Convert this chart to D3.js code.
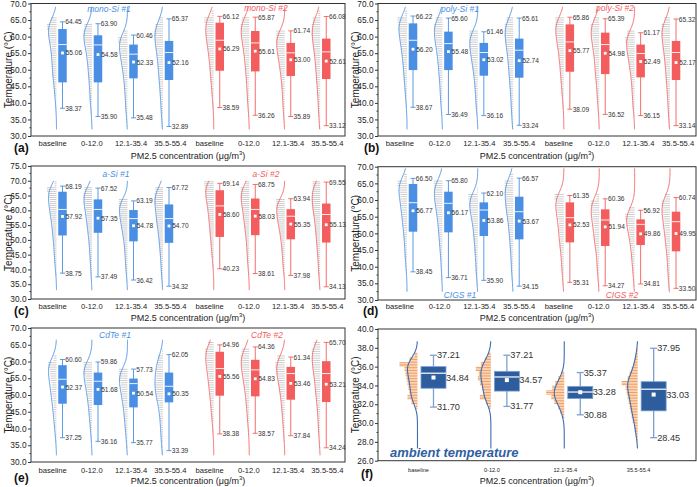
<!DOCTYPE html>
<html><head><meta charset="utf-8">
<script src="https://cdn.jsdelivr.net/npm/d3@7"></script>
<style>body{margin:0;background:#fff}svg{display:block}text{font-family:"Liberation Sans",Arial,sans-serif}</style>
</head><body><svg id="c" width="697" height="487"></svg>
<script>
// ---------------- DATA ----------------
const categories = ["baseline", "0-12.0", "12.1-35.4", "35.5-55.4"];
const panelLetters = ["(a)", "(b)", "(c)", "(d)", "(e)", "(f)"];
const seriesNames = [["mono-Si #1", "mono-Si #2"], ["poly-Si #1", "poly-Si #2"], ["a-Si #1", "a-Si #2"], ["CIGS #1", "CIGS #2"], ["CdTe #1", "CdTe #2"]];
const yTicksMain = [30, 35, 40, 45, 50, 55, 60, 65, 70];
const yTicksC = [30, 35, 40, 45, 50, 55, 60, 65, 70, 75];
const yTicksF = [26, 28, 30, 32, 34, 36, 38, 40];

// panels a-e, 8 groups each (4 x module #1, 4 x module #2)
const maxVals = [
  [64.45, 63.90, 60.46, 65.37, 66.12, 65.87, 61.74, 66.08],
  [66.22, 65.60, 61.46, 65.61, 65.86, 65.39, 61.17, 65.32],
  [68.19, 67.52, 63.19, 67.72, 69.14, 68.75, 63.94, 69.55],
  [66.50, 65.80, 62.10, 66.57, 61.35, 60.36, 56.92, 60.74],
  [60.60, 59.86, 57.73, 62.05, 64.96, 64.36, 61.34, 65.70]];
const meanVals = [
  [55.06, 54.58, 52.33, 52.16, 56.29, 55.61, 53.00, 52.61],
  [56.20, 55.48, 53.02, 52.74, 55.77, 54.98, 52.49, 52.17],
  [57.92, 57.35, 54.78, 54.70, 58.60, 58.03, 55.35, 55.13],
  [56.77, 56.17, 53.86, 53.67, 52.53, 51.94, 49.86, 49.95],
  [52.37, 51.68, 50.54, 50.35, 55.56, 54.83, 53.46, 53.21]];
const minVals = [
  [38.37, 35.90, 35.48, 32.89, 38.59, 36.26, 35.89, 33.12],
  [38.67, 36.49, 36.16, 33.24, 38.09, 36.52, 36.15, 33.14],
  [38.75, 37.49, 36.42, 34.32, 40.23, 38.61, 37.98, 34.13],
  [38.45, 36.71, 35.90, 34.15, 35.31, 34.27, 34.81, 33.50],
  [37.25, 36.16, 35.77, 33.39, 38.38, 38.57, 37.84, 34.24]];
const q1Vals = [
  [46.2, 46.2, 47.4, 46.9, 49.7, 49.5, 48.1, 47.2],
  [49.9, 49.9, 48.2, 47.6, 49.4, 48.7, 47.7, 46.9],
  [51.5, 52.4, 49.5, 49.0, 51.0, 51.6, 50.2, 49.1],
  [50.5, 50.3, 49.2, 48.2, 47.3, 46.2, 46.5, 44.6],
  [47.4, 47.0, 46.3, 47.8, 49.8, 49.6, 48.6, 47.9]];
const medianVals = [
  [57.6, 57.5, 54.7, 55.2, 58.9, 58.1, 55.1, 55.4],
  [58.9, 57.9, 55.2, 55.9, 58.4, 57.6, 54.9, 55.2],
  [60.3, 60.3, 57.2, 57.2, 61.5, 60.3, 58.0, 58.6],
  [59.2, 59.0, 57.0, 56.5, 54.7, 54.0, 52.7, 53.5],
  [54.7, 54.1, 53.4, 52.6, 57.9, 57.5, 56.4, 56.4]];
const q3Vals = [
  [62.3, 60.4, 57.6, 58.7, 64.2, 61.7, 58.1, 59.4],
  [64.0, 61.5, 58.1, 59.4, 63.7, 61.2, 57.6, 58.7],
  [66.3, 63.7, 60.1, 62.0, 66.8, 64.0, 60.4, 62.3],
  [64.8, 62.5, 59.3, 61.0, 59.3, 57.2, 54.2, 56.5],
  [58.9, 56.7, 54.9, 56.7, 62.9, 60.5, 58.4, 60.1]];
// histogram counts (relative), 2 °C bins starting at 32 °C (32-34, 34-36, ... 68-70)
const histBinStart = 32, histBinWidth = 2;
const histCounts = [
  [[0,0,0,1,1,2,2,3,4,4,4,5,5,7,8,10,6,0,0],
   [0,0,1,1,2,2,2,3,3,4,4,5,6,8,9,8,0,0,0],
   [0,1,1,2,2,2,3,3,4,5,6,7,8,10,4,0,0,0,0],
   [1,1,2,2,2,3,3,4,4,5,5,6,7,8,9,8,4,0,0],
   [0,0,0,1,1,2,2,3,3,4,4,5,6,7,8,8,10,2,0],
   [0,0,1,1,2,2,2,3,3,4,4,5,6,7,8,9,8,0,0],
   [0,1,1,2,2,2,3,3,4,5,6,7,8,9,9,0,0,0,0],
   [1,1,2,2,2,3,3,4,4,5,5,6,7,8,9,9,8,2,0]],
  [[0,0,0,1,1,2,2,3,3,4,4,5,6,7,8,9,10,2,0],
   [0,0,1,1,2,2,2,3,3,4,4,5,6,7,8,9,7,0,0],
   [0,0,1,2,2,2,3,3,4,5,6,7,8,9,9,0,0,0,0],
   [1,1,2,2,2,3,3,4,4,5,5,6,7,8,9,9,7,0,0],
   [0,0,0,1,1,2,2,3,3,4,4,5,6,7,8,9,9,0,0],
   [0,0,1,1,2,2,2,3,4,4,4,5,6,7,8,9,6,0,0],
   [0,0,1,2,2,2,3,3,4,5,6,7,8,10,8,0,0,0,0],
   [1,1,2,2,2,3,3,4,4,5,5,6,7,8,9,9,6,0,0]],
  [[0,0,0,1,1,2,2,2,3,3,4,4,5,6,7,7,8,10,2],
   [0,0,1,1,1,2,2,2,3,3,4,5,5,6,7,8,9,8,0],
   [0,0,1,1,2,2,2,3,3,4,5,6,7,8,9,9,0,0,0],
   [0,1,1,2,2,2,3,3,4,4,5,6,7,7,8,9,9,8,0],
   [0,0,0,0,1,1,2,2,3,3,4,4,5,5,6,7,8,9,10],
   [0,0,0,1,1,2,2,2,3,3,4,5,5,6,7,8,9,9,4],
   [0,0,0,1,2,2,2,3,3,4,5,6,7,8,9,9,0,0,0],
   [0,1,1,2,2,2,3,3,4,4,5,5,6,7,8,9,9,8,8]],
  [[0,0,0,1,1,2,2,2,3,3,4,5,5,6,7,8,10,3,0],
   [0,0,1,1,1,2,2,3,3,4,4,5,6,7,8,9,9,0,0],
   [0,1,1,2,2,2,3,3,4,4,5,6,8,9,10,1,0,0,0],
   [0,1,1,2,2,2,3,3,4,4,5,6,7,8,8,9,9,3,0],
   [0,1,1,2,2,2,3,4,4,5,5,6,7,8,10,0,0,0,0],
   [0,1,1,2,2,2,3,4,5,5,6,7,8,9,3,0,0,0,0],
   [0,1,1,2,2,3,3,4,5,6,8,10,6,0,0,0,0,0,0],
   [1,1,2,2,2,3,3,4,5,5,6,7,8,9,5,0,0,0,0]],
  [[0,0,1,1,2,2,3,3,4,5,5,6,7,9,3,0,0,0,0],
   [0,0,1,1,2,2,3,3,4,5,6,7,9,9,0,0,0,0,0],
   [0,1,1,2,2,3,3,4,5,6,7,9,9,0,0,0,0,0,0],
   [1,1,2,2,2,3,3,4,6,7,8,7,7,6,5,1,0,0,0],
   [0,0,0,1,1,2,2,3,3,4,5,5,6,7,8,9,6,0,0],
   [0,0,0,1,1,2,2,3,3,4,5,6,7,8,9,8,0,0,0],
   [0,0,1,1,2,2,3,3,4,5,6,7,9,10,8,0,0,0,0],
   [0,1,1,2,2,2,3,3,4,5,5,6,7,8,9,9,7,0,0]]];

// panel f: ambient temperature
const ambMax = [37.21, 37.21, 35.37, 37.95];
const ambMean = [34.84, 34.57, 33.28, 33.03];
const ambMin = [31.70, 31.77, 30.88, 28.45];
const ambQ1 = [33.7, 33.4, 32.6, 31.3];
const ambMedian = [35.3, 34.9, 33.3, 33.6];
const ambQ3 = [36.0, 35.5, 33.9, 34.4];
// 0.5 °C bins starting at 28 °C
const ambBinStart = 28, ambBinWidth = 0.5;
const ambHist = [
  [0,0,0,0,0,0,0,2,6,10,8,9,10,11,12,13,18,8,3,0],
  [0,0,0,0,0,0,0,2,5,11,8,9,11,13,12,15,10,6,3,0],
  [0,0,0,0,0,2,4,6,10,13,18,12,9,6,3,0,0,0,0,0],
  [1,2,3,3,5,6,7,8,9,10,11,12,16,10,8,6,4,3,2,1]];

// ---------------- LAYOUT / STYLE ----------------
const BLUE = "#4a8fe3", RED = "#f45d5d", GRAY = "#a3a3a3", TXT = "#333";
const layouts = [
  {x0:31, x1:345, y0:3.5, y1:136, dom:[30,70], ticks:yTicksMain, curve:[32,69], slotDom:[-0.887,7.958], sub:[[109,8.5],[266,7.5]], letter:[14,148], xlabY:143, titleY:156},
  {x0:378, x1:696, y0:3.5, y1:136, dom:[30,70], ticks:yTicksMain, curve:[32,69], slotDom:[-0.989,7.994], sub:[[460,8.5],[615,7.5]], letter:[364,148], xlabY:143, titleY:156},
  {x0:31, x1:345, y0:166, y1:299, dom:[30,75], ticks:yTicksC, curve:[33,70], slotDom:[-0.887,7.958], sub:[[116,173.5],[266,173.5]], letter:[14,310.5], xlabY:306, titleY:318},
  {x0:378, x1:696, y0:166.7, y1:300, dom:[30,70], ticks:yTicksMain, curve:[32.5,69.5], slotDom:[-0.989,7.994], sub:[[460,295],[622,295]], letter:[363,311], xlabY:306, titleY:318},
  {x0:31, x1:345, y0:328, y1:462, dom:[30,70], ticks:yTicksMain, curve:[32,66.5], slotDom:[-0.887,7.958], sub:[[115,335],[267,335]], letter:[14,478], xlabY:470, titleY:481},
  {x0:378, x1:696, y0:329, y1:460.7, dom:[26,40], ticks:yTicksF, curve:[27.3,38.7], letter:[361,474], xlabY:470, titleY:481}
];
const svg = d3.select("#c");
const fmt1 = d3.format(".1f"), fmt2 = d3.format(".2f");

function smoothProfile(counts, start, width, bw, t) {
  let s = 0;
  counts.forEach((c, i) => {
    const cx = start + width * (i + 0.5);
    const z = (t - cx) / bw;
    s += c * Math.exp(-0.5 * z * z);
  });
  return s;
}

function drawFrame(L, y, letter) {
  const g = svg.append("g");
  const axis = d3.axisLeft(y).tickValues(L.ticks).tickFormat(fmt1).tickSize(3).tickPadding(1.5);
  const ga = g.append("g").attr("transform", `translate(${L.x0},0)`).call(axis);
  ga.select(".domain").remove();
  ga.selectAll("line").attr("stroke", "#333");
  ga.selectAll("text").attr("font-size", 8.3).attr("fill", "#222").attr("font-family", '"Liberation Sans",Arial,sans-serif');
  const step = L.ticks[1] - L.ticks[0];
  const minors = d3.range(L.dom[0] + step / 2, L.dom[1], step);
  g.selectAll(".mn").data(minors).join("line")
    .attr("x1", L.x0 - 1.5).attr("x2", L.x0).attr("y1", d => y(d)).attr("y2", d => y(d)).attr("stroke", "#333");
  g.append("rect").attr("x", L.x0).attr("y", L.y0).attr("width", L.x1 - L.x0).attr("height", L.y1 - L.y0)
    .attr("fill", "none").attr("stroke", "#333").attr("stroke-width", 1);
  g.append("text").attr("transform", `translate(${L.x0 - 23},${(L.y0 + L.y1) / 2}) rotate(-90)`)
    .attr("text-anchor", "middle").attr("dominant-baseline", "central").attr("font-size", 10).attr("fill", "#222")
    .text("Temperature (°C)");
  g.append("text").attr("x", L.letter[0]).attr("y", L.letter[1]).attr("dominant-baseline", "central")
    .attr("font-size", 12).attr("font-weight", "bold").attr("fill", "#111").text(letter);
  const t = g.append("text").attr("x", (L.x0 + L.x1) / 2).attr("y", L.titleY).attr("text-anchor", "middle")
    .attr("dominant-baseline", "central").attr("font-size", 9).attr("fill", "#222");
  t.append("tspan").text("PM2.5 concentration (μg/m");
  t.append("tspan").attr("font-size", 6).attr("dy", -3).text("3");
  t.append("tspan").attr("dy", 3).text(")");
  return g;
}

function drawModulePanel(pi) {
  const L = layouts[pi];
  const y = d3.scaleLinear().domain(L.dom).range([L.y1, L.y0]);
  drawFrame(L, y, panelLetters[pi]);
  const g = svg.append("g");
  const slot = d3.scaleLinear().domain(L.slotDom).range([L.x0, L.x1]);
  const slots = [0, 1, 2, 3, 4.43, 5.43, 6.43, 7.43];
  const labelX = d3.scaleBand().domain(d3.range(8)).range([L.x0 + 2, L.x1 + 2]);
  const labels = categories.concat(categories);
  g.selectAll(".xl").data(labels).join("text")
    .attr("x", (d, i) => labelX(i) + labelX.bandwidth() / 2).attr("y", L.xlabY)
    .attr("text-anchor", "middle").attr("dominant-baseline", "central").attr("font-size", 7.6).attr("fill", "#222").text(d => d);
  seriesNames[pi].forEach((nm, si) => {
    g.append("text").attr("x", L.sub[si][0]).attr("y", L.sub[si][1]).attr("text-anchor", "middle")
      .attr("dominant-baseline", "central").attr("font-size", 8.5).attr("font-style", "italic")
      .attr("fill", si === 0 ? BLUE : RED).text(nm);
  });
  for (let gi = 0; gi < 8; gi++) {
    const col = gi < 4 ? BLUE : RED;
    const bx = slot(slots[gi]);
    const sx = bx - 6;
    const hist = histCounts[pi][gi];
    const hl = [];
    hist.forEach((c, b) => {
      if (c <= 0) return;
      for (let j = 0; j < 3; j++) hl.push({t: histBinStart + histBinWidth * b + 0.33 + 0.67 * j, c});
    });
    g.append("g").selectAll("line").data(hl).join("line")
      .attr("x1", sx).attr("x2", d => sx - d.c * 0.95).attr("y1", d => y(d.t)).attr("y2", d => y(d.t))
      .attr("stroke", GRAY).attr("stroke-width", 0.55);
    const ts = d3.range(L.curve[0], L.curve[1] + 0.001, 0.25);
    const prof = ts.map(t => smoothProfile(hist, histBinStart, histBinWidth, 2.6, t));
    const pm = d3.max(prof);
    g.append("path").datum(ts.map((t, i) => [sx - prof[i] / pm * 8, y(t)]))
      .attr("d", d3.line().curve(d3.curveBasis)).attr("fill", "none").attr("stroke", col).attr("stroke-width", 0.9);
    const mx = maxVals[pi][gi], mn = minVals[pi][gi], q1 = q1Vals[pi][gi], q3 = q3Vals[pi][gi], md = medianVals[pi][gi], me = meanVals[pi][gi];
    g.append("line").attr("x1", bx).attr("x2", bx).attr("y1", y(mx)).attr("y2", y(mn)).attr("stroke", col).attr("stroke-width", 0.9);
    [mx, mn].forEach(v => g.append("line").attr("x1", bx - 2.5).attr("x2", bx + 2.5).attr("y1", y(v)).attr("y2", y(v)).attr("stroke", col).attr("stroke-width", 0.9));
    const bw = 8.5;
    g.append("rect").attr("x", bx - bw / 2).attr("y", y(q3)).attr("width", bw).attr("height", y(q1) - y(q3)).attr("fill", col);
    g.append("line").attr("x1", bx - bw / 2).attr("x2", bx + bw / 2).attr("y1", y(md)).attr("y2", y(md)).attr("stroke", "#fff").attr("stroke-width", 0.9);
    g.append("rect").attr("x", bx - 1.4).attr("y", y(me) - 1.4).attr("width", 2.8).attr("height", 2.8).attr("fill", "#fff");
    const lab = (v, x) => g.append("text").attr("x", x).attr("y", y(v)).attr("dominant-baseline", "central")
      .attr("font-size", 6.6).attr("fill", TXT).text(fmt2(v));
    lab(mx, bx + 2.8); lab(mn, bx + 2.8); lab(me, bx + 3.2);
  }
}

function drawAmbientPanel() {
  const L = layouts[5];
  const y = d3.scaleLinear().domain(L.dom).range([L.y1, L.y0]);
  drawFrame(L, y, panelLetters[5]);
  const g = svg.append("g");
  const slot = d3.scaleLinear().domain([-0.756, 3.577]).range([L.x0, L.x1]);
  g.selectAll(".xl").data(categories).join("text")
    .attr("x", (d, i) => slot(i) - 15).attr("y", L.xlabY)
    .attr("text-anchor", "middle").attr("dominant-baseline", "central").attr("font-size", 5.6).attr("fill", "#222").text(d => d);
  const BOX = "#2e5d9e", WH = "#7ba0d2", CUR = "#3d6db2", OR = "#ee8434";
  for (let gi = 0; gi < 4; gi++) {
    const bx = slot(gi), sx = bx - 16;
    const hist = ambHist[gi];
    const hl = [];
    hist.forEach((c, b) => {
      if (c <= 0) return;
      for (let j = 0; j < 3; j++) hl.push({t: ambBinStart + ambBinWidth * b + 0.083 + 0.167 * j, c});
    });
    g.append("g").selectAll("line").data(hl).join("line")
      .attr("x1", sx).attr("x2", d => sx - d.c * 1.0).attr("y1", d => y(d.t)).attr("y2", d => y(d.t))
      .attr("stroke", OR).attr("stroke-width", 0.8);
    const ts = d3.range(L.curve[0], L.curve[1] + 0.001, 0.05);
    const prof = ts.map(t => smoothProfile(hist, ambBinStart, ambBinWidth, 0.75, t));
    const pm = d3.max(prof);
    g.append("path").datum(ts.map((t, i) => [sx - prof[i] / pm * 10, y(t)]))
      .attr("d", d3.line().curve(d3.curveBasis)).attr("fill", "none").attr("stroke", CUR).attr("stroke-width", 1.1);
    const mx = ambMax[gi], mn = ambMin[gi], q1 = ambQ1[gi], q3 = ambQ3[gi], md = ambMedian[gi], me = ambMean[gi];
    g.append("line").attr("x1", bx).attr("x2", bx).attr("y1", y(mx)).attr("y2", y(mn)).attr("stroke", WH).attr("stroke-width", 1.3);
    [mx, mn].forEach(v => g.append("line").attr("x1", bx - 3.5).attr("x2", bx + 3.5).attr("y1", y(v)).attr("y2", y(v)).attr("stroke", WH).attr("stroke-width", 1.3));
    const bw = 25;
    g.append("rect").attr("x", bx - bw / 2).attr("y", y(q3)).attr("width", bw).attr("height", y(q1) - y(q3))
      .attr("fill", BOX).attr("stroke", WH).attr("stroke-width", 0.8);
    g.append("line").attr("x1", bx - bw / 2).attr("x2", bx + bw / 2).attr("y1", y(md)).attr("y2", y(md)).attr("stroke", "#fff").attr("stroke-width", 1.2);
    g.append("rect").attr("x", bx - 2).attr("y", y(me) - 2).attr("width", 4).attr("height", 4).attr("fill", "#fff");
    const lab = (v, x) => g.append("text").attr("x", x).attr("y", y(v)).attr("dominant-baseline", "central")
      .attr("font-size", 9.2).attr("fill", TXT).text(fmt2(v));
    lab(mx, bx + 3.5); lab(mn, bx + 3.5); lab(me, bx + bw / 2);
  }
  g.append("text").attr("x", 390).attr("y", 452).attr("dominant-baseline", "central")
    .attr("font-size", 13).attr("font-weight", "bold").attr("font-style", "italic").attr("fill", "#2f5fa2")
    .text("ambient temperature");
}

for (let p = 0; p < 5; p++) drawModulePanel(p);
drawAmbientPanel();
</script></body></html>
